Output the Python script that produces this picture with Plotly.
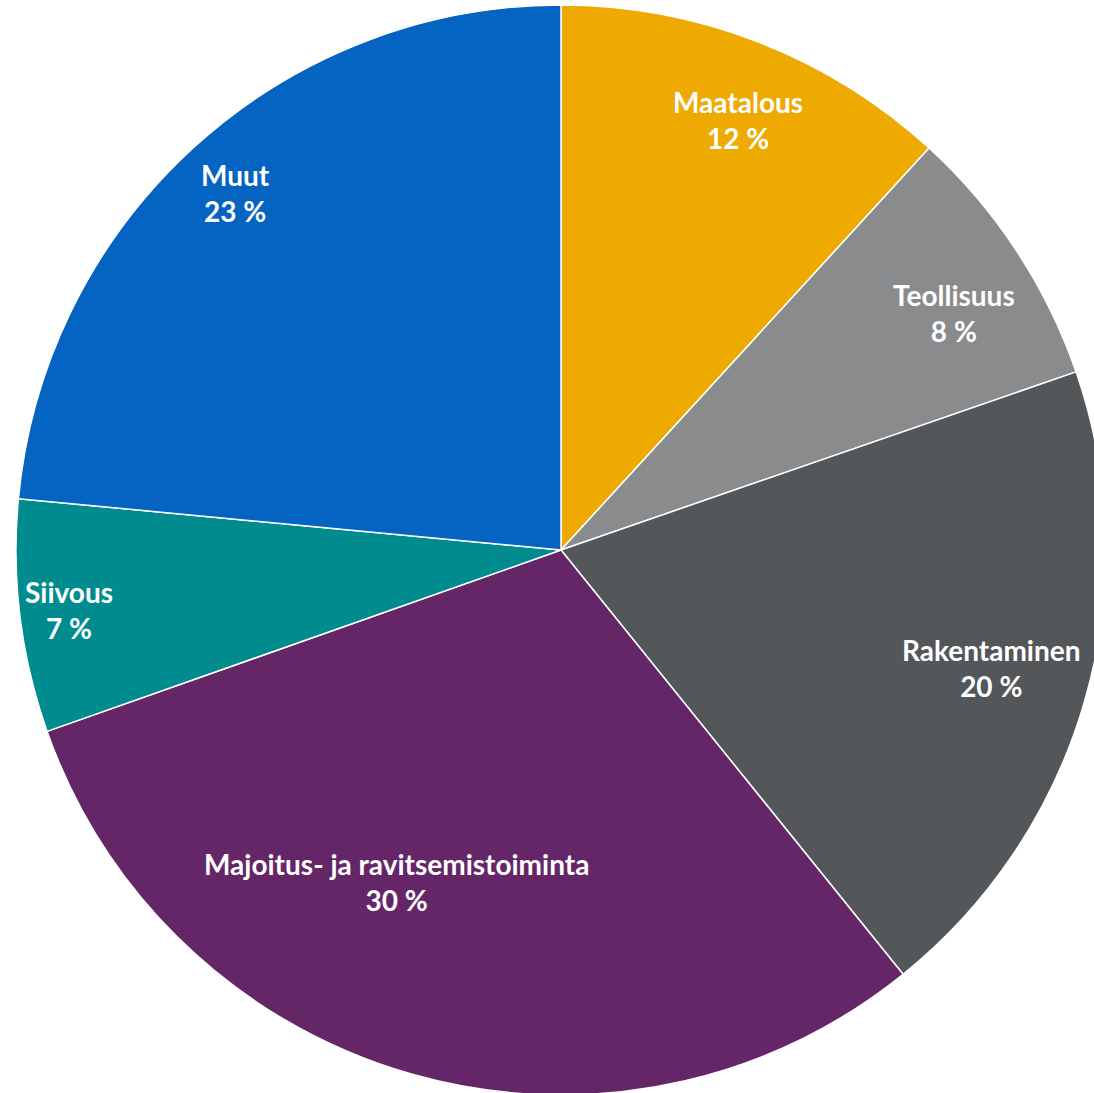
import math
import plotly.graph_objects as go

categories = ["Maatalous", "Teollisuus", "Rakentaminen",
              "Majoitus- ja ravitsemistoiminta", "Siivous", "Muut"]
values = [11.8, 7.9, 19.5, 30.4, 6.9, 23.5]
pct_labels = ["12 %", "8 %", "20 %", "30 %", "7 %", "23 %"]
colors = ["#EEAA00", "#898B8D", "#54575A", "#642667", "#008C8F", "#0563C1"]
label_radius = [0.86, 0.845, 0.82, 0.685, 0.91, 0.89]
label_angle_shift = [1.0, 2.0, -0.6, 10.3, 0.0, 0.2]

W, H = 1122, 1100
MT, MB = 5, 5

fig = go.Figure(go.Pie(
    labels=categories,
    values=values,
    sort=False,
    direction="clockwise",
    rotation=0,
    marker=dict(colors=colors, line=dict(color="white", width=1.5)),
    textinfo="none",
    hoverinfo="label+percent",
    showlegend=False,
    domain=dict(x=[0, 1], y=[0, 1]),
))

# label annotations placed from cumulative values
plot_h = H - MT - MB
r_px = plot_h / 2
cx, cy = W / 2, MT + r_px
total = sum(values)
cum = 0
for cat, v, pl, rf, sh in zip(categories, values, pct_labels, label_radius, label_angle_shift):
    mid = (cum + v / 2) / total * 360 + sh
    cum += v
    a = math.radians(mid)
    x_px = cx + rf * r_px * math.sin(a)
    y_px = cy - rf * r_px * math.cos(a)
    fig.add_annotation(
        x=x_px / W, y=1 - y_px / H, xref="paper", yref="paper",
        xanchor="center", yanchor="middle", showarrow=False,
        text=f"<b>{cat}</b><br><b>{pl}</b>",
        font=dict(family="Lato", size=28, color="white"),
        align="center",
    )

fig.update_layout(
    width=W, height=H,
    margin=dict(l=0, r=0, t=MT, b=MB),
    paper_bgcolor="white",
    plot_bgcolor="white",
)
fig.write_html("out.html", config={"displayModeBar": False},
               post_script="document.body.style.margin='0';")
